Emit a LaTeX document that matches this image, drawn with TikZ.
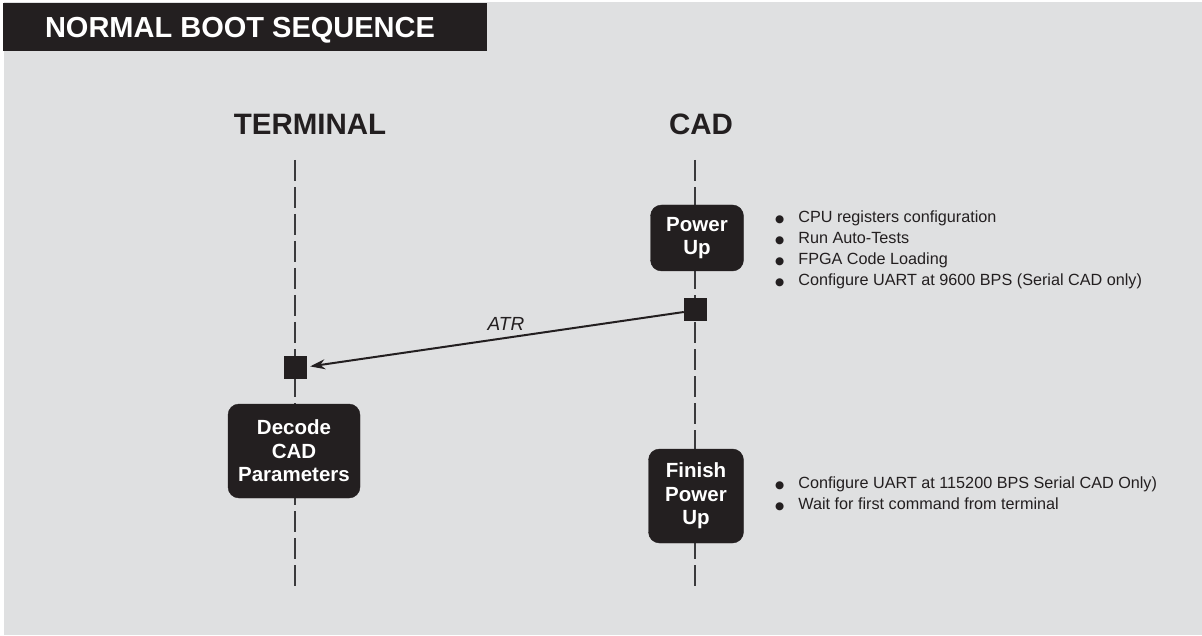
\documentclass[tikz,border=0pt]{standalone}
\usepackage{fontspec}
\setmainfont{Liberation Sans}
\newfontfamily\dotfont{DejaVu Sans}
\usetikzlibrary{arrows.meta}
\definecolor{ink}{HTML}{231F20}
\definecolor{panel}{HTML}{DFE0E1}
\definecolor{lifegray}{HTML}{3A3A3C}
% bullet glyph used in the side notes
\newcommand{\itemdot}{{\dotfont\fontsize{10.5}{10.5}\selectfont ●}\hspace{14pt}}
\tikzset{
  x=1pt, y=-1pt,
  banner/.style={text=white, font=\bfseries\fontsize{29}{34}\selectfont, inner sep=0pt},
  party/.style={text=ink, font=\bfseries\fontsize{29.5}{34}\selectfont, inner sep=0pt},
  stepbox/.style={fill=ink, draw=ink, rounded corners=11pt, text=white, align=center,
    font=\bfseries\fontsize{20.5}{23.5}\selectfont, inner sep=0pt},
  marker/.style={fill=ink, draw=ink, minimum size=22pt, inner sep=0pt},
  lifeline/.style={draw=lifegray, line width=1.2pt, dash pattern=on 21pt off 6pt},
  msg/.style={draw=ink, line width=2pt, -{Stealth[length=15pt, width=10pt]}, shorten >=4pt},
  notes/.style={text=ink, align=left, anchor=west, inner sep=0pt,
    font=\fontsize{16.2}{21}\selectfont},
  msglabel/.style={text=ink, font=\itshape\fontsize{19}{22}\selectfont, inner sep=0pt}
}
\begin{document}
\begin{tikzpicture}
\useasboundingbox (0,0) rectangle (1202,636);
% panel and title bar
\fill[white] (0,0) rectangle (1202,636);
\fill[panel] (4,2) rectangle (1202,635);
\fill[ink] (3,3) rectangle (487,51);
\node[banner, anchor=base] (title) at (240,37.5) {NORMAL BOOT SEQUENCE};

% lifeline ends
\coordinate (tTop) at (295,160);
\coordinate (tBot) at (295,589);
\coordinate (cTop) at (695,160);
\coordinate (cBot) at (695,589);
\draw[lifeline] (tTop) -- (tBot);
\draw[lifeline] (cTop) -- (cBot);

% participants
\node[party] (terminal) at (310,124) {TERMINAL};
\node[party] (cad) at (701,124) {CAD};

% activity boxes
\node[stepbox, minimum width=93pt, minimum height=66pt] (power) at (697,238) {Power\\Up};
\node[stepbox, minimum width=95pt, minimum height=94pt] (finish) at (696,496) {Finish\\Power\\Up};
\node[stepbox, minimum width=132pt, minimum height=94pt] (decode) at (294,451) {Decode\\CAD\\Parameters};

% message end points
\node[marker] (cadsq) at (695,309) {};
\node[marker] (termsq) at (295,367) {};
\draw[msg] ([yshift=-3pt]cadsq.west) -- (termsq.east);
\node[msglabel] (atr) at (506,324) {ATR};

% side notes
\node[notes] (powernotes) at (775,250) {\itemdot CPU registers configuration\\
\itemdot Run Auto-Tests\\
\itemdot FPGA Code Loading\\
\itemdot Configure UART at 9600 BPS (Serial CAD only)};
\node[notes] (finishnotes) at (775,494) {\itemdot Configure UART at 115200 BPS Serial CAD Only)\\
\itemdot Wait for first command from terminal};
\end{tikzpicture}
\end{document}
